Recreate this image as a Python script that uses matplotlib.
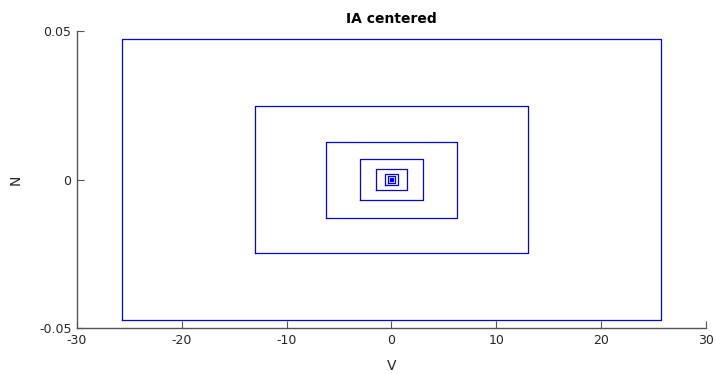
import numpy as np
import matplotlib
matplotlib.use("Agg")
import matplotlib.pyplot as plt


# Half-widths (V) and half-heights (N) of the nested enclosing boxes, all centred at the origin
V_HALF = [25.75, 13.0, 6.26, 3.0, 1.45, 0.64, 0.32, 0.16, 0.08]
N_HALF = [0.0473, 0.0247, 0.0128, 0.0068, 0.0036, 0.0020, 0.0011, 0.0006, 0.0003]

X_TICKS = [-30, -20, -10, 0, 10, 20, 30]
Y_TICKS = [-0.05, 0, 0.05]
Y_TICK_LABELS = ["-0.05", "0", "0.05"]

plt.rcParams["axes.unicode_minus"] = False


def box_outline(half_w: float, half_h: float) -> tuple[np.ndarray, np.ndarray]:
    xs = np.array([-half_w, half_w, half_w, -half_w, -half_w])
    ys = np.array([-half_h, -half_h, half_h, half_h, -half_h])
    return xs, ys


fig = plt.figure(figsize=(7.15, 3.74), dpi=100)
ax = fig.add_axes([0.1077, 0.123, 0.8797, 0.794])

for hw, hh in zip(V_HALF, N_HALF):
    xs, ys = box_outline(hw, hh)
    ax.plot(xs, ys, color="blue", linewidth=0.9)

axis_color = "#262626"
ax.set_xlim(-30, 30)
ax.set_ylim(-0.05, 0.05)
ax.set_xticks(X_TICKS)
ax.set_yticks(Y_TICKS)
ax.set_yticklabels(Y_TICK_LABELS)

for side in ["top", "right"]:
    ax.spines[side].set_visible(False)
for side in ["left", "bottom"]:
    ax.spines[side].set_color("#555555")
    ax.spines[side].set_linewidth(1.0)

ax.tick_params(direction="in", length=5, width=0.8, colors="#555555",
               labelcolor=axis_color, labelsize=9)
ax.tick_params(axis="x", pad=4)
ax.tick_params(axis="y", pad=4)

ax.set_xlabel("V", fontsize=10, color=axis_color, labelpad=9)
ax.set_ylabel("N", fontsize=10, color=axis_color, labelpad=12)
ax.set_title("IA centered", fontsize=10, fontweight="bold", pad=6)

fig.savefig("out.png", dpi=100)
